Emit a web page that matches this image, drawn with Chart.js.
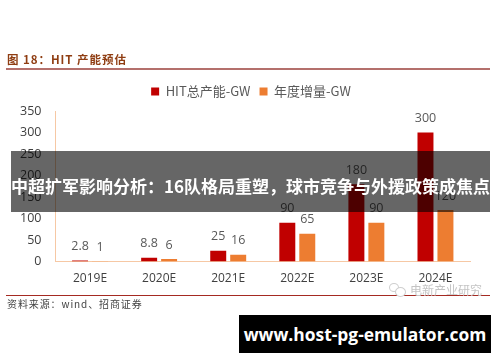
<!DOCTYPE html>
<html>
<head>
<meta charset="utf-8">
<script src="https://cdn.jsdelivr.net/npm/chart.js@4"></script>
<style>
  html, body { margin: 0; padding: 0; background: #fff; }
  #wrap { position: relative; width: 500px; height: 362px; overflow: hidden; font-family: "Noto Sans CJK SC", sans-serif; }
  #wrap canvas { position: absolute; left: 0; top: 0; }
  .abs { position: absolute; white-space: nowrap; }
  #titulo { left: 7px; top: 50px; font-size: 11.5px; font-weight: 700; color: #8f3d12; letter-spacing: 0.95px; line-height: 18px; }
  #regra1 { left: 6px; top: 68px; width: 484px; height: 2px; background: #b4706c; }
  #regra2 { left: 6px; top: 295px; width: 484px; height: 1px; background: #a52a22; }
  #fonte { left: 7px; top: 296px; font-size: 10px; color: #444; letter-spacing: 0.9px; line-height: 16px; }
  #marca { left: 410px; top: 281px; font-size: 12px; color: #c4c4c4; line-height: 18px; }
  .bolha { border: 1px solid #cfcfcf; border-radius: 50%; background: #fff; }
  #bolha1 { left: 389px; top: 283px; width: 8px; height: 7px; }
  #bolha2 { left: 395px; top: 287px; width: 9px; height: 8px; }
  #faixa { left: 11px; top: 151px; width: 479px; height: 61px; background: rgba(0,0,0,0.6); }
  #faixaTexto { left: 11px; top: 151px; width: 479px; height: 61px; line-height: 70px; text-align: center; color: #fff; font-size: 17px; font-weight: 700; }
  #caixa { left: 239px; top: 315px; width: 252px; height: 38px; background: #000; color: #fff; text-align: center; line-height: 39px; font-family: "Open Sans", sans-serif; font-weight: 700; font-size: 17.4px; }
</style>
</head>
<body>
<div id="wrap">
  <canvas id="grafico" width="500" height="362"></canvas>
  <div class="abs" id="titulo">图 18：HIT 产能预估</div>
  <div class="abs" id="regra1"></div>
  <div class="abs" id="regra2"></div>
  <div class="abs" id="fonte">资料来源：wind、招商证券</div>
  <div class="abs bolha" id="bolha1"></div>
  <div class="abs bolha" id="bolha2"></div>
  <div class="abs" id="marca">电新产业研究</div>
  <div class="abs" id="faixa"></div>
  <div class="abs" id="faixaTexto">中超扩军影响分析：16队格局重塑，球市竞争与外援政策成焦点</div>
  <div class="abs" id="caixa">www.host-pg-emulator.com</div>
</div>
<script>
const anos = ["2019E", "2020E", "2021E", "2022E", "2023E", "2024E"];
const capacidadeTotal = [2.8, 8.8, 25, 90, 180, 300];
const incrementoAnual = [1, 6, 16, 65, 90, 120];
const ticksY = [0, 50, 100, 150, 200, 250, 300, 350];

/* rótulos em cima das barras */
const rotulos = {
    id: "rotulos",
    afterDatasetsDraw(chart) {
        const ctx = chart.ctx;
        ctx.save();
        ctx.font = '12.5px "Open Sans", sans-serif';
        ctx.fillStyle = "#595959";
        ctx.textAlign = "center";
        ctx.textBaseline = "middle";
        chart.data.datasets.forEach((ds, i) => {
            chart.getDatasetMeta(i).data.forEach((barra, j) => {
                ctx.fillText(String(ds.data[j]), barra.x, barra.y - 14);
            });
        });
        ctx.restore();
    }
};

/* legenda centrada na largura da página e um pouco mais acima */
const legendaCentrada = {
    id: "legendaCentrada",
    afterLayout(chart) {
        chart.legend.left += 16;
        chart.legend.right += 16;
        chart.legend.top -= 3;
        chart.legend.bottom -= 3;
    }
};

new Chart(document.getElementById("grafico"), {
    type: "bar",
    plugins: [rotulos, legendaCentrada],
    data: {
        labels: anos,
        datasets: [
            { label: "HIT总产能-GW", data: capacidadeTotal, backgroundColor: "#c00000" },
            { label: "年度增量-GW", data: incrementoAnual, backgroundColor: "#ed7d31" }
        ]
    },
    options: {
        responsive: false,
        animation: false,
        layout: { padding: { left: 0, right: 30, top: 79, bottom: 66 } },
        datasets: { bar: { categoryPercentage: 0.578, barPercentage: 0.8 } },
        plugins: {
            tooltip: { enabled: false },
            legend: {
                position: "top",
                labels: {
                    boxWidth: 8,
                    boxHeight: 8,
                    padding: 9,
                    color: "#595959",
                    font: { size: 13, family: '"Noto Sans CJK SC", sans-serif' }
                }
            }
        },
        scales: {
            x: {
                grid: { display: false, drawTicks: false },
                border: { color: "#f6c8a4" },
                ticks: { color: "#404040", padding: 10, maxRotation: 0, font: { size: 12, family: '"Open Sans", sans-serif' } }
            },
            y: {
                min: 0,
                max: 350,
                afterFit(scale) { scale.width = 55.5; },
                afterBuildTicks(scale) { scale.ticks = ticksY.map(v => ({ value: v })); },
                grid: { display: false, drawTicks: false },
                border: { color: "#f6c8a4" },
                ticks: { color: "#404040", padding: 14, font: { size: 12.5, family: '"Open Sans", sans-serif' } }
            }
        }
    }
});
</script>
</body>
</html>
